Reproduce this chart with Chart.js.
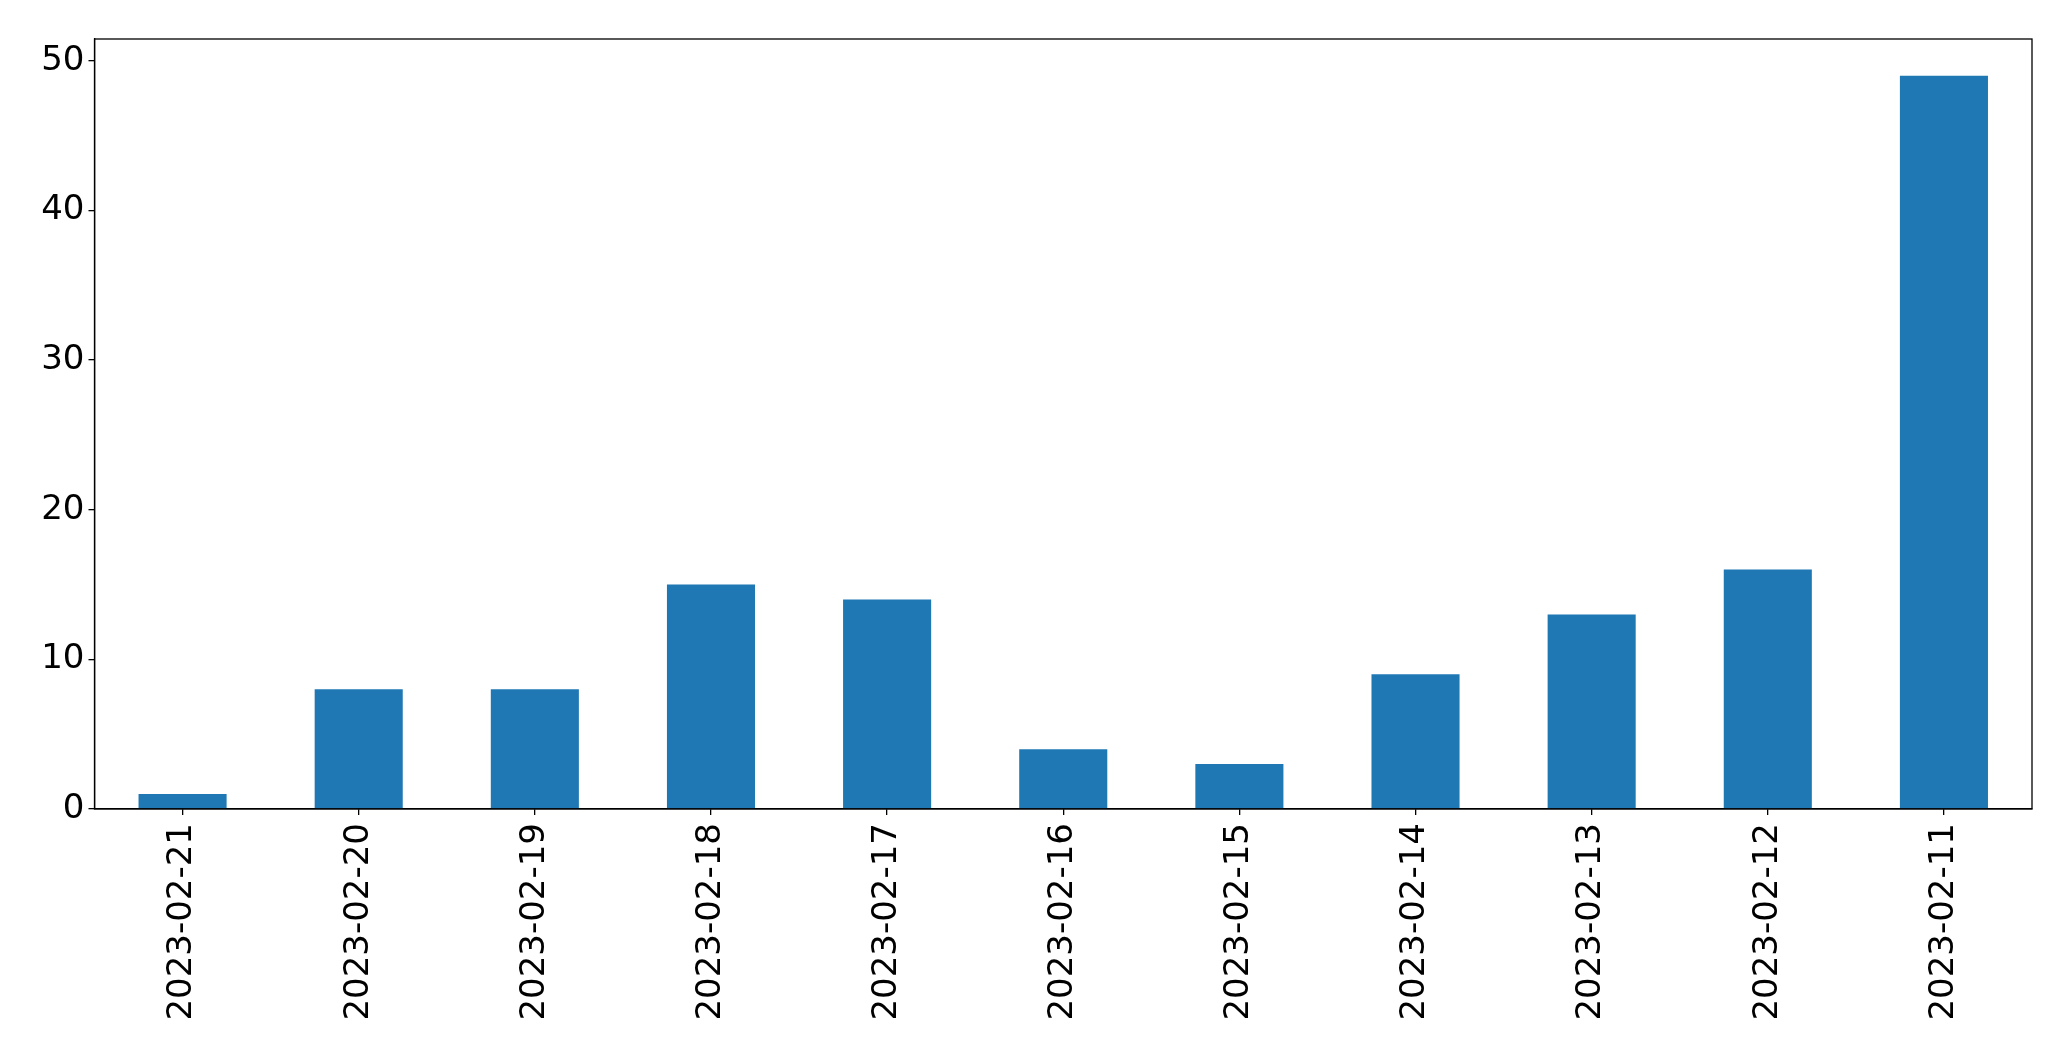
<!DOCTYPE html>
<html>
<head>
<meta charset="utf-8">
<script src="https://cdn.jsdelivr.net/npm/chart.js@4"></script>
<style>
  html, body { margin: 0; padding: 0; background: #fff; }
  #wrap { width: 2071px; height: 1061px; }
</style>
</head>
<body>
<div id="wrap"><canvas id="barChart" width="2071" height="1061"></canvas></div>
<script>
// data
var dates = ['2023-02-21', '2023-02-20', '2023-02-19', '2023-02-18', '2023-02-17', '2023-02-16',
             '2023-02-15', '2023-02-14', '2023-02-13', '2023-02-12', '2023-02-11'];
var counts = [1, 8, 8, 15, 14, 4, 3, 9, 13, 16, 49];
var yTicks = [0, 10, 20, 30, 40, 50];

// box round the plot area, like the matplotlib axes frame
var frame = {
    id: 'frame',
    afterDraw: function (chart) {
        var a = chart.chartArea;
        var c = chart.ctx;
        c.save();
        c.strokeStyle = '#000';
        c.lineWidth = 1.3;
        c.strokeRect(a.left, a.top, a.right - a.left, a.bottom - a.top);
        c.restore();
    }
};

var ctx = document.getElementById('barChart').getContext('2d');
var barChart = new Chart(ctx, {
    type: 'bar',
    data: {
        labels: dates,
        datasets: [{
            data: counts,
            backgroundColor: '#1f77b4',
            borderWidth: 0,
            barPercentage: 0.5,
            categoryPercentage: 1.0
        }]
    },
    options: {
        responsive: false,
        animation: false,
        layout: { padding: { left: 0, right: 39, top: 39, bottom: 0 } },
        plugins: { legend: { display: false }, tooltip: { enabled: false } },
        scales: {
            x: {
                offset: true,
                grid: { display: true, offset: false, drawOnChartArea: false, drawTicks: true, tickLength: 6, color: '#000', lineWidth: 1.3 },
                border: { display: true, color: '#000', width: 1.3 },
                ticks: {
                    color: '#000',
                    font: { family: 'DejaVu Sans', size: 34 },
                    minRotation: 90,
                    maxRotation: 90,
                    autoSkip: false,
                    padding: 8
                },
                afterFit: function (scale) { scale.height = 252; }
            },
            y: {
                min: 0,
                max: 51.45,
                grid: { display: true, drawOnChartArea: false, drawTicks: true, tickLength: 6, color: '#000', lineWidth: 1.3 },
                border: { display: true, color: '#000', width: 1.3 },
                afterBuildTicks: function (scale) {
                    scale.ticks = yTicks.map(function (v) { return { value: v }; });
                },
                ticks: {
                    color: '#000',
                    font: { family: 'DejaVu Sans', size: 34 },
                    padding: 4
                },
                afterFit: function (scale) { scale.width = 94.5; }
            }
        }
    },
    plugins: [frame]
});
</script>
</body>
</html>
